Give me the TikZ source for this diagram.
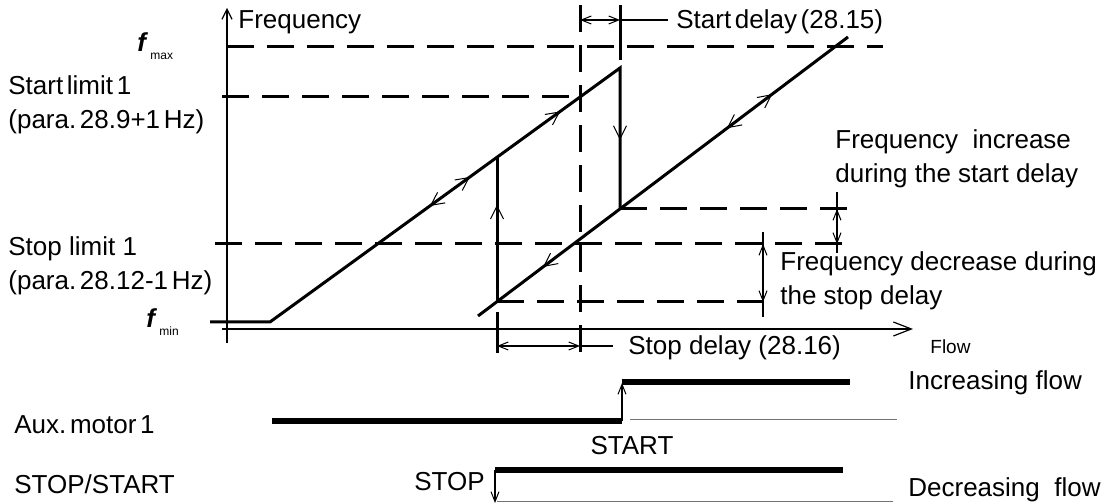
\documentclass[tikz,border=0pt]{standalone}
\usepackage{fontspec}
\setmainfont{Liberation Sans}
\usetikzlibrary{arrows.meta,decorations.markings}
\tikzset{
  hb/.tip={Straight Barb[length=6.5bp,width=6.5bp,line width=0.5bp]},
  hbs/.tip={Straight Barb[length=5bp,width=4bp,line width=0.5bp]},
  hax/.tip={Straight Barb[length=9bp,width=7bp,line width=0.6bp]},
}
\newcommand{\ts}{\hspace{0.14em}}
\begin{document}
\begin{tikzpicture}[x=0.5bp,y=-0.5bp,
  txt/.style={inner sep=0pt, anchor=west, font=\fontsize{13bp}{17bp}\selectfont, align=left},
  small/.style={inner sep=0pt, anchor=west, font=\fontsize{9.5bp}{11bp}\selectfont},
  sub/.style={inner sep=0pt, anchor=west, font=\fontsize{6bp}{7bp}\selectfont},
  ital/.style={inner sep=0pt, anchor=west, font=\fontsize{13bp}{15bp}\selectfont\bfseries\itshape},
  curve/.style={line width=1.5bp, line join=miter},
  dsh/.style={line width=1.5bp, dash pattern=on 13.5bp off 6.5bp},
  thinl/.style={line width=0.6bp},
  grayl/.style={line width=0.5bp, black!55},
  bar/.style={line width=2.8bp},
  overlay arrows/.style={line width=0.3bp, postaction=decorate, decoration={markings, #1}},
]
\useasboundingbox (0,0) rectangle (1115,504);

% axes
\coordinate (yb) at (227,343);
\coordinate (yt) at (227,8);
\coordinate (xl) at (222,329);
\coordinate (xr) at (913,329);
\draw[thinl,-{Straight Barb[length=5bp,width=5bp,line width=0.6bp]}] (yb) -- (yt);
\draw[thinl,-hax] (xl) -- (xr);

% dashed levels
\coordinate (fmaxL) at (227,47);  \coordinate (fmaxR) at (883,47);
\coordinate (slL) at (222,97);    \coordinate (slR) at (580,97);
\coordinate (stL) at (215,244);   \coordinate (stR) at (850,244);
\coordinate (loL) at (497,302);   \coordinate (loR) at (768,302);
\coordinate (upL) at (620,209);   \coordinate (upR) at (853,209);
\coordinate (vdT) at (580,5);     \coordinate (vdB) at (580,355);
\draw[dsh] (fmaxL) -- (fmaxR);
\draw[dsh] (slL) -- (slR);
\draw[dsh] (stL) -- (stR);
\draw[dsh] (loL) -- (loR);
\draw[dsh] (upL) -- (upR);
\draw[dsh] (vdT) -- (vdB);

% main curves
\coordinate (fm0) at (210,322);
\coordinate (fm1) at (270,322);
\coordinate (top1) at (620,68);
\coordinate (bot1) at (620,209);
\coordinate (v4t) at (497,157);
\coordinate (v4b) at (497,302);
\coordinate (r0) at (478,316);
\coordinate (r1) at (848,37);
\draw[curve] (fm0) -- (fm1) -- (top1) -- (bot1);
\draw[curve] (v4b) -- (v4t);
\draw[curve] (r0) -- (r1);
\draw[overlay arrows={mark=at position 0.457 with {\arrowreversed{hb}},
  mark=at position 0.571 with {\arrow{hb}}, mark=at position 0.829 with {\arrow{hb}}}] (fm1) -- (top1);
\draw[overlay arrows={mark=at position 0.51 with {\arrow{hb}}}] (top1) -- (bot1);
\draw[overlay arrows={mark=at position 0.669 with {\arrow{hb}}}] (v4b) -- (v4t);
\draw[overlay arrows={mark=at position 0.176 with {\arrowreversed{hb}},
  mark=at position 0.673 with {\arrowreversed{hb}}, mark=at position 0.795 with {\arrow{hb}}}] (r0) -- (r1);

% solid ticks
\coordinate (t1a) at (620,5);  \coordinate (t1b) at (620,60);
\coordinate (t2a) at (497,312); \coordinate (t2b) at (497,353);
\draw[curve] (t1a) -- (t1b);
\draw[curve] (t2a) -- (t2b);

% dimension lines
\coordinate (sdA) at (580,20); \coordinate (sdB) at (620,20); \coordinate (sdC) at (668,20);
\draw[thinl,hbs-hbs] (sdA) -- (sdB);
\draw[thinl] (sdB) -- (sdC);
\coordinate (pdA) at (497,346); \coordinate (pdB) at (580,346); \coordinate (pdC) at (613,346);
\draw[thinl,hbs-hbs] (pdA) -- (pdB);
\draw[thinl] (pdB) -- (pdC);
\coordinate (d1t) at (837,192); \coordinate (d1a) at (837,209); \coordinate (d1b) at (837,244); \coordinate (d1e) at (837,253);
\draw[thinl] (d1t) -- (d1e);
\draw[thinl,hbs-hbs] (d1a) -- (d1b);
\coordinate (d2t) at (763,232); \coordinate (d2a) at (763,244); \coordinate (d2b) at (763,302); \coordinate (d2e) at (763,317);
\draw[thinl] (d2t) -- (d2e);
\draw[thinl,hbs-hbs] (d2a) -- (d2b);

% texts
\node[txt] (freq) at (238,22) {Frequency};
\node[ital] (fmaxf) at (137,42) {f};
\node[sub] (fmaxs) at (150,56) {max};
\node[ital] (fminf) at (146,318) {f};
\node[sub] (fmins) at (159,331) {min};
\node[txt] (sl) at (8,105) {Start\ts limit\ts 1\\(para.\ts 28.9+1\ts Hz)};
\node[txt] (stl) at (8,266) {Stop limit 1\\(para.\ts 28.12-1\ts Hz)};
\node[txt] (sd) at (676,22) {Start\ts delay\ts (28.15)};
\node[txt] (fi) at (835,159) {Frequency\ \ increase\\during the start delay};
\node[txt] (fd) at (780,281) {Frequency decrease during\\the stop delay};
\node[txt] (spd) at (628,348) {Stop delay (28.16)};
\node[small] (flow) at (930,347) {Flow};

% bottom timing
\coordinate (a0) at (272,421); \coordinate (a1) at (622,421);
\coordinate (a2) at (622,383); \coordinate (a3) at (622,382); \coordinate (a4) at (850,382);
\coordinate (g0) at (630,420); \coordinate (g1) at (897,420);
\draw[bar] (a0) -- (a1);
\draw[thinl,-hbs] (a1) -- (a2);
\draw[bar] (a3) -- (a4);
\draw[grayl] (g0) -- (g1);
\coordinate (s0) at (495,470); \coordinate (s1) at (843,470);
\coordinate (s2) at (495,503);
\coordinate (h0) at (497,502); \coordinate (h1) at (893,502);
\draw[bar] (s0) -- (s1);
\draw[thinl,-hbs] (s0) -- (s2);
\draw[grayl] (h0) -- (h1);

\node[txt] (inc) at (908,383) {Increasing flow};
\node[txt] (aux) at (14,425) {Aux.\ts motor\ts 1};
\node[txt,anchor=center] (start) at (632,446) {START};
\node[txt] (ss) at (14,484) {STOP/START};
\node[txt,anchor=east] (stop) at (485,482) {STOP};
\node[txt] (dec) at (908,490) {Decreasing\ \ flow};
\end{tikzpicture}
\end{document}
